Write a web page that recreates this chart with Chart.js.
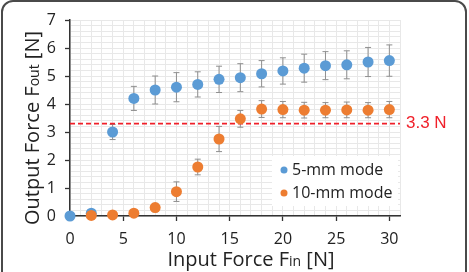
<!DOCTYPE html>
<html>
<head>
<meta charset="utf-8">
<script src="https://cdn.jsdelivr.net/npm/chart.js@4.4.0/dist/chart.umd.min.js"></script>
<style>
  body { margin: 0; background: #fff; }
  #wrap { position: relative; width: 469px; height: 272px; overflow: hidden; }
  #frame {
    position: absolute; left: 1px; top: 0px; width: 462px; height: 300px;
    border: 2px solid #4a4a4a; border-radius: 12px; pointer-events: none;
  }
  canvas { position: absolute; left: 0; top: 0; }
</style>
</head>
<body>
<div id="wrap">
  <canvas id="chart" width="469" height="272"></canvas>
  <div id="frame"></div>
</div>
<script>
// input force (N)
const inputForce = [0, 2, 4, 6, 8, 10, 12, 14, 16, 18, 20, 22, 24, 26, 28, 30]

// 5-mm mode output force and error
const fiveMm = [0, 0.1, 3.0, 4.2, 4.5, 4.6, 4.7, 4.88, 4.94, 5.08, 5.18, 5.28, 5.37, 5.4, 5.5, 5.55]
const fiveMmErr = [0, 0.05, 0.27, 0.43, 0.5, 0.52, 0.45, 0.47, 0.5, 0.47, 0.47, 0.5, 0.5, 0.5, 0.52, 0.56]

// 10-mm mode output force and error (no point at 0)
const tenMm = [null, 0.02, 0.04, 0.1, 0.3, 0.87, 1.75, 2.75, 3.47, 3.82, 3.8, 3.78, 3.78, 3.79, 3.78, 3.8]
const tenMmErr = [0, 0.03, 0.03, 0.05, 0.15, 0.35, 0.28, 0.45, 0.3, 0.3, 0.29, 0.28, 0.27, 0.28, 0.27, 0.29]

const threshold = 3.3
const thresholdLabel = "3.3 N"
const seriesLabels = ["5-mm mode", "10-mm mode"]
const xTicks = [0, 5, 10, 15, 20, 25, 30]
const yTicks = [0, 1, 2, 3, 4, 5, 6, 7]

const blue = "#5b9bd5"
const orange = "#ed7d31"
const red = "#f0202a"
const ink = "#222"
const FONT = "'Open Sans', sans-serif"

const toPoints = (ys) => inputForce.map((x, i) => ({ x, y: ys[i] }))

// error bars under the markers
const errorBars = {
  id: "errorBars",
  beforeDatasetsDraw(chart) {
    const { ctx, scales } = chart
    const sets = [[fiveMm, fiveMmErr], [tenMm, tenMmErr]]
    ctx.save()
    ctx.strokeStyle = "#8f8f8f"
    ctx.lineWidth = 1
    sets.forEach(([ys, errs]) => {
      ys.forEach((y, i) => {
        if (y === null || !errs[i]) return
        const px = scales.x.getPixelForValue(inputForce[i])
        const top = scales.y.getPixelForValue(y + errs[i])
        const bot = scales.y.getPixelForValue(y - errs[i])
        ctx.beginPath()
        ctx.moveTo(px, top); ctx.lineTo(px, bot)
        ctx.moveTo(px - 3, top); ctx.lineTo(px + 3, top)
        ctx.moveTo(px - 3, bot); ctx.lineTo(px + 3, bot)
        ctx.stroke()
      })
    })
    ctx.restore()
  },
}

// axis titles with small "in"/"out", threshold label, legend box
const extras = {
  id: "extras",
  afterDraw(chart) {
    const { ctx, scales } = chart
    const big = "20px " + FONT
    const small = "14px " + FONT
    ctx.save()
    ctx.fillStyle = ink
    ctx.textBaseline = "alphabetic"

    const drawParts = (parts, cx, cy) => {
      let total = 0
      parts.forEach((p) => { ctx.font = p[1]; total += ctx.measureText(p[0]).width })
      let x = cx - total / 2
      parts.forEach((p) => {
        ctx.font = p[1]
        ctx.textAlign = "left"
        ctx.fillText(p[0], x, cy)
        x += ctx.measureText(p[0]).width
      })
    }

    drawParts([["Input Force F", big], ["in", small], [" [N]", big]], 251, 266)

    ctx.save()
    ctx.translate(39, 128)
    ctx.rotate(-Math.PI / 2)
    drawParts([["Output Force F", big], ["out", small], [" [N]", big]], 0, 0)
    ctx.restore()

    // threshold label
    ctx.fillStyle = red
    ctx.font = "17px 'Liberation Sans', Arial, sans-serif"
    ctx.textAlign = "left"
    ctx.textBaseline = "middle"
    ctx.fillText(thresholdLabel, 406, scales.y.getPixelForValue(threshold))

    // legend
    ctx.fillStyle = "#fff"
    ctx.fillRect(272, 156, 126, 50)
    const colors = [blue, orange]
    ctx.font = "16px " + FONT
    seriesLabels.forEach((lab, i) => {
      const y = 170 + i * 23
      ctx.fillStyle = colors[i]
      ctx.beginPath()
      ctx.arc(284, y, 3.5, 0, Math.PI * 2)
      ctx.fill()
      ctx.fillStyle = ink
      ctx.fillText(lab, 292, y)
    })
    ctx.restore()
  },
}

const ctx = document.getElementById("chart").getContext("2d")
new Chart(ctx, {
  type: "scatter",
  data: {
    datasets: [
      {
        label: seriesLabels[1],
        data: toPoints(tenMm),
        backgroundColor: orange,
        borderColor: orange,
        pointRadius: 5.5,
        pointBorderWidth: 0,
        clip: false,
        order: 0,
      },
      {
        label: seriesLabels[0],
        data: toPoints(fiveMm),
        backgroundColor: blue,
        borderColor: blue,
        pointRadius: 5.5,
        pointBorderWidth: 0,
        clip: false,
        order: 1,
      },
      {
        type: "line",
        label: thresholdLabel,
        data: [{ x: 0, y: threshold }, { x: 31, y: threshold }],
        borderColor: red,
        borderWidth: 1.6,
        borderDash: [5, 3],
        pointRadius: 0,
        order: 2,
      },
    ],
  },
  options: {
    responsive: false,
    animation: false,
    events: [],
    layout: { padding: { left: 0, right: 69, top: 20, bottom: 0 } },
    plugins: { legend: { display: false }, tooltip: { enabled: false } },
    scales: {
      xMinor: {
        type: "linear", position: "bottom", min: 0, max: 31,
        ticks: { display: false, stepSize: 1 },
        grid: { color: "#e8e8e8", drawTicks: false },
        border: { display: false },
        afterFit: (s) => { s.height = 0 },
      },
      yMinor: {
        type: "linear", position: "left", min: 0, max: 7,
        ticks: { display: false, stepSize: 0.2 },
        grid: { color: "#e8e8e8", drawTicks: false },
        border: { display: false },
        afterFit: (s) => { s.width = 0 },
      },
      x: {
        type: "linear", position: "bottom", min: 0, max: 31,
        afterBuildTicks: (s) => { s.ticks = xTicks.map((v) => ({ value: v })) },
        ticks: { color: ink, font: { family: FONT, size: 16 }, padding: 9, maxRotation: 0 },
        grid: { drawOnChartArea: false, tickLength: 5, tickColor: "#333", tickWidth: 1.3 },
        border: { color: "#333", width: 1.5 },
        afterFit: (s) => { s.height = 56 },
      },
      y: {
        type: "linear", position: "left", min: 0, max: 7,
        afterBuildTicks: (s) => { s.ticks = yTicks.map((v) => ({ value: v })) },
        ticks: { color: ink, font: { family: FONT, size: 16 }, padding: 9 },
        grid: { drawOnChartArea: false, tickLength: 5, tickColor: "#333", tickWidth: 1.3 },
        border: { color: "#333", width: 1.5 },
        afterFit: (s) => { s.width = 70 },
      },
    },
  },
  plugins: [errorBars, extras],
})
</script>
</body>
</html>
